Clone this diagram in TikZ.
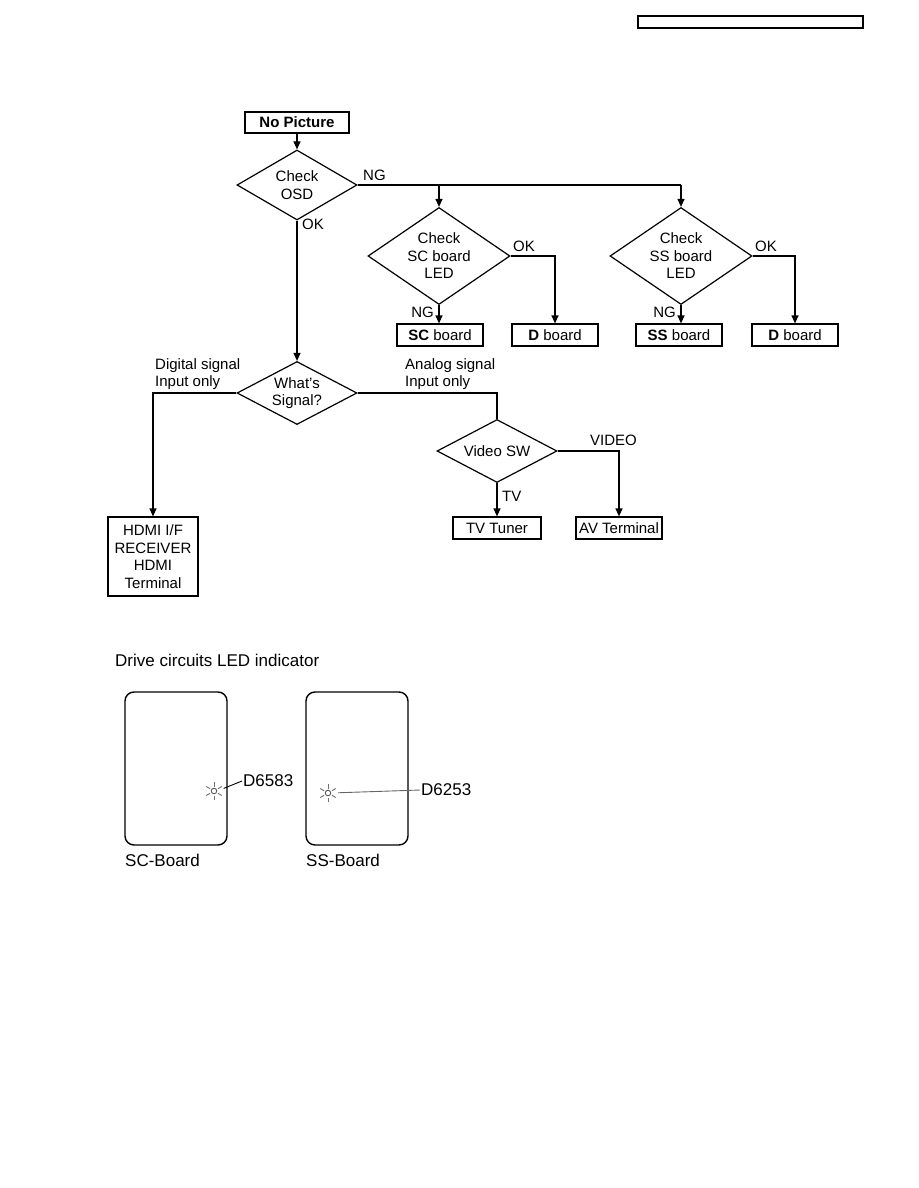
\documentclass[tikz,border=0pt]{standalone}
\usepackage{fontspec}
\setmainfont{Liberation Sans}
\usepackage{tikz}
\usetikzlibrary{arrows.meta,positioning,shapes.geometric,calc}
\tikzset{
  flowbox/.style={draw, line width=1.2pt, align=center, inner sep=1pt,
    minimum height=22pt, minimum width=86pt},
  decision/.style={draw, diamond, line width=1.2pt, align=center, inner sep=0pt},
  arrow/.style={-{Triangle[length=8pt,width=7pt]}, line width=1.2pt},
  wire/.style={line width=1.2pt},
  lbl/.style={inner sep=1pt},
  board/.style={draw, line width=1.4pt, rounded corners=9pt,
    minimum width=102pt, minimum height=153pt},
  ledlamp/.style={draw, black!65, circle, line width=0.9pt, minimum size=5.5pt, inner sep=0pt},
  ledray/.style={black!55, line width=0.9pt},
  bigtext/.style={font=\fontsize{17}{20}\selectfont, inner sep=1pt}
}

\begin{document}
\begin{tikzpicture}[x=1pt, y=-1pt,
  every node/.style={font=\fontsize{15}{17.5}\selectfont}]
  \useasboundingbox (0,0) rectangle (918,1188);

  % page header
  \node[draw, line width=1.2pt, minimum width=225pt, minimum height=12pt, inner sep=0pt]
    (header) at (750.5,22) {};

  % flow chart
  \node[flowbox, minimum width=104pt, minimum height=21pt] (nopic) at (297,122.5)
    {\textbf{No Picture}};
  \node[decision, minimum width=120pt, minimum height=70pt, aspect=1.7] (osd) at (297,185)
    {Check\\OSD};
  \node[decision, minimum width=142pt, minimum height=97pt, aspect=1.46] (scchk) at (439,256)
    {Check\\SC board\\LED};
  \node[decision, minimum width=142pt, minimum height=97pt, aspect=1.46] (sschk) at (681,256)
    {Check\\SS board\\LED};
  \node[flowbox] (scb) at (440,335) {\textbf{SC} board};
  \node[flowbox] (dbsc) at (555,335) {\textbf{D} board};
  \node[flowbox] (ssb) at (679,335) {\textbf{SS} board};
  \node[flowbox] (dbss) at (795,335) {\textbf{D} board};

  \node[decision, minimum width=120pt, minimum height=63pt, aspect=1.9] (signal) at (297,393)
    {What's\\Signal?};
  \node[decision, minimum width=120pt, minimum height=63pt, aspect=1.9] (vsw) at (497,451)
    {Video SW};
  \node[flowbox, minimum width=90pt, minimum height=79pt] (hdmi) at (153,556.5)
    {HDMI I/F\\RECEIVER\\HDMI\\Terminal};
  \node[flowbox, minimum width=88pt] (tuner) at (497,528) {TV Tuner};
  \node[flowbox] (avterm) at (619,528) {AV Terminal};

  \draw[arrow] (nopic) -- (osd);
  \draw[wire] (osd.east) -- (osd.east -| sschk.north);
  \draw[arrow] (osd.east -| scchk.north) -- (scchk.north);
  \draw[arrow] (osd.east -| sschk.north) -- (sschk.north);
  \node[lbl, anchor=west] at (362,175) {NG};
  \draw[arrow] (osd.south) -- (signal.north);
  \node[lbl, anchor=west] at (301,224) {OK};

  \draw[arrow] (scchk.south) -- (scchk.south |- scb.north);
  \node[lbl, anchor=east] at (435,312) {NG};
  \draw[arrow] (scchk.east) -| (dbsc.north);
  \node[lbl, anchor=west] at (512,246) {OK};
  \draw[arrow] (sschk.south) -- (sschk.south |- ssb.north);
  \node[lbl, anchor=east] at (677,312) {NG};
  \draw[arrow] (sschk.east) -| (dbss.north);
  \node[lbl, anchor=west] at (754,246) {OK};

  \draw[arrow] (signal.west) -| (hdmi.north);
  \node[lbl, anchor=west, align=left] at (154,374) {Digital signal\\Input only};
  \draw[wire] (signal.east) -| (vsw.north);
  \node[lbl, anchor=west, align=left] at (404,374) {Analog signal\\Input only};
  \draw[arrow] (vsw.south) -- (tuner.north);
  \node[lbl, anchor=west] at (501,496) {TV};
  \draw[arrow] (vsw.east) -| (avterm.north);
  \node[lbl, anchor=west] at (589,440) {VIDEO};

  % LED indicator
  \node[bigtext, anchor=west] (title) at (114,660) {Drive circuits LED indicator};
  \node[board] (scbrd) at (176,768.5) {};
  \node[board] (ssbrd) at (357,768.5) {};
  \node[bigtext, anchor=west] at (124,860) {SC-Board};
  \node[bigtext, anchor=west] at (305,860) {SS-Board};

  \node[ledlamp] (leda) at (214,791) {};
  \node[ledlamp] (ledb) at (328,793) {};
  \foreach \led in {leda,ledb}
    \foreach \a in {30,90,150,210,270,330}
      \draw[ledray] (\led.center) ++(\a:4.5) -- ++(\a:4.5);
  \node[bigtext, anchor=west] (da) at (242,781) {D6583};
  \node[bigtext, anchor=west] (db) at (420,790) {D6253};
  \draw[line width=0.9pt, shorten <=7pt] (leda.east) -- (da.west);
  \draw[line width=0.9pt, black!60, shorten <=7pt] (ledb.east) -- (db.west);
\end{tikzpicture}
\end{document}
